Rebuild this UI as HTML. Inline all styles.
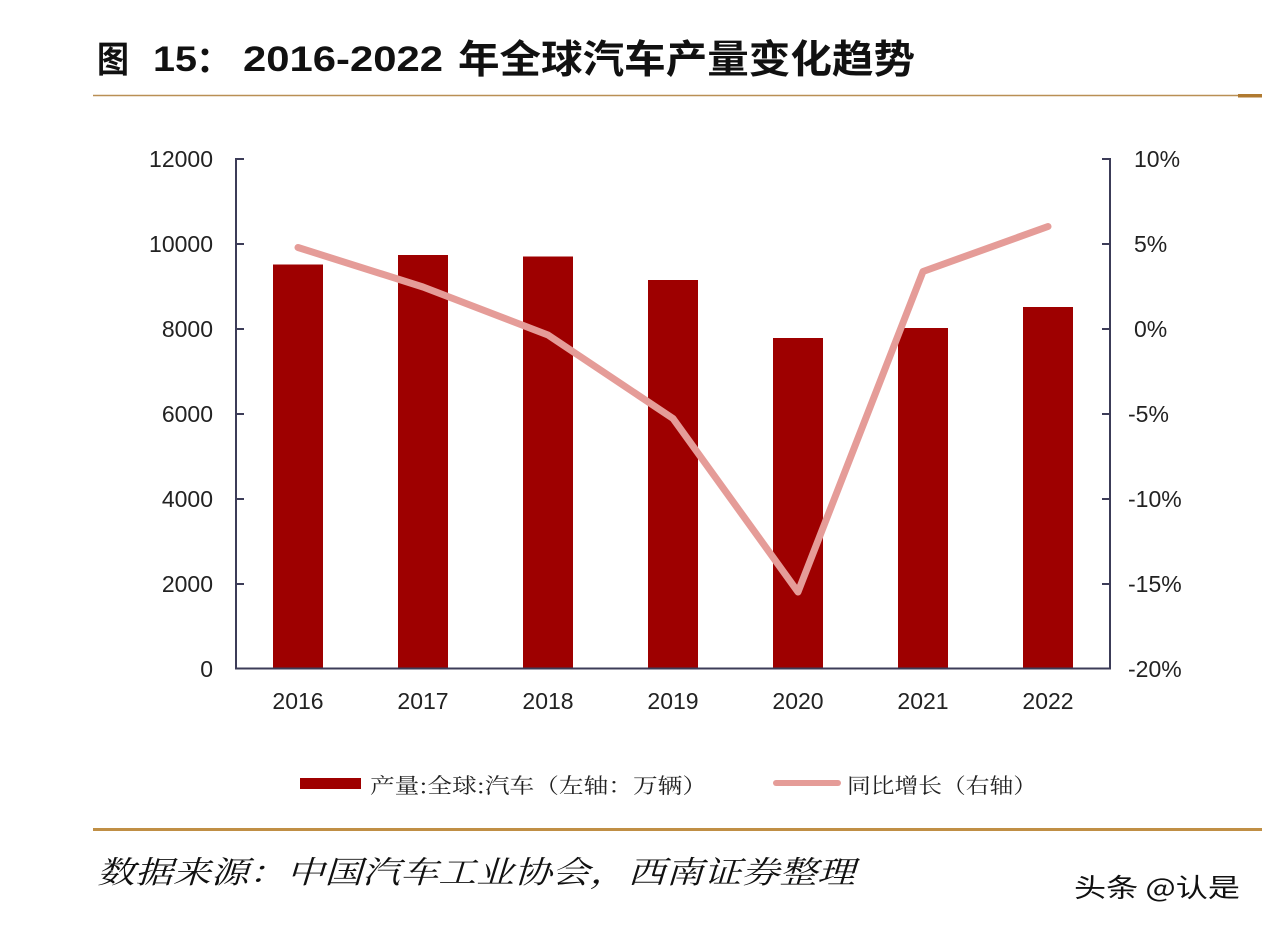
<!DOCTYPE html>
<html><head><meta charset="utf-8">
<style>
html,body{margin:0;padding:0;background:#fff;}
svg{display:block;}
</style></head>
<body>
<svg width="1268" height="930" viewBox="0 0 1268 930" xmlns="http://www.w3.org/2000/svg">
<rect width="1268" height="930" fill="#fff"/>
<!-- Title -->
<g font-weight="bold" fill="#111">
<text x="97" y="72" font-family="'Noto Sans CJK SC', sans-serif" font-size="36" textLength="32" lengthAdjust="spacingAndGlyphs">图</text>
<text x="153" y="71" font-family="'Liberation Sans', sans-serif" font-size="35" textLength="44" lengthAdjust="spacingAndGlyphs">15</text>
<text x="196" y="72" font-family="'Noto Sans CJK SC', sans-serif" font-size="36">：</text>
<text x="243" y="71" font-family="'Liberation Sans', sans-serif" font-size="35" textLength="200" lengthAdjust="spacingAndGlyphs">2016-2022</text>
<text x="458" y="73" font-family="'Noto Sans CJK SC', sans-serif" font-size="39" textLength="457" lengthAdjust="spacingAndGlyphs">年全球汽车产量变化趋势</text>
</g>
<!-- top rule -->
<line x1="93" y1="95.5" x2="1261" y2="95.5" stroke="#b98f55" stroke-width="1.6"/>
<rect x="1238" y="94" width="24" height="3.5" fill="#b07a30"/>

<!-- Bars -->
<g fill="#9e0000">
<rect x="273" y="264.5" width="50" height="204" transform="translate(0,0)"/>
</g>
<g fill="#9e0000">
<rect x="273" y="264.5" width="50" height="404"/>
<rect x="398" y="255" width="50" height="413.5"/>
<rect x="523" y="256.5" width="50" height="412"/>
<rect x="648" y="280" width="50" height="388.5"/>
<rect x="773" y="338" width="50" height="330.5"/>
<rect x="898" y="328" width="50" height="340.5"/>
<rect x="1023" y="307" width="50" height="361.5"/>
</g>

<!-- Axes -->
<g stroke="#3c3c58" stroke-width="2" fill="none">
<line x1="236" y1="158" x2="236" y2="669.5"/>
<line x1="1110" y1="158" x2="1110" y2="669.5"/>
<line x1="235" y1="668.5" x2="1111" y2="668.5"/>
<!-- left ticks -->
<line x1="236" y1="159" x2="244" y2="159"/>
<line x1="236" y1="244" x2="244" y2="244"/>
<line x1="236" y1="329" x2="244" y2="329"/>
<line x1="236" y1="414" x2="244" y2="414"/>
<line x1="236" y1="499" x2="244" y2="499"/>
<line x1="236" y1="584" x2="244" y2="584"/>
<!-- right ticks -->
<line x1="1102" y1="159" x2="1110" y2="159"/>
<line x1="1102" y1="244" x2="1110" y2="244"/>
<line x1="1102" y1="329" x2="1110" y2="329"/>
<line x1="1102" y1="414" x2="1110" y2="414"/>
<line x1="1102" y1="499" x2="1110" y2="499"/>
<line x1="1102" y1="584" x2="1110" y2="584"/>
</g>

<!-- Line series -->
<polyline points="298,247.5 423,287 548,335 673,418.5 798,592 923,271.5 1048,226.5" fill="none" stroke="#e59c98" stroke-width="7" stroke-linejoin="round" stroke-linecap="round"/>

<!-- left labels -->
<g font-family="'Liberation Sans', sans-serif" font-size="23" fill="#222" text-anchor="end">
<text x="213" y="167">12000</text>
<text x="213" y="252">10000</text>
<text x="213" y="337">8000</text>
<text x="213" y="422">6000</text>
<text x="213" y="507">4000</text>
<text x="213" y="592">2000</text>
<text x="213" y="677">0</text>
</g>
<!-- right labels -->
<g font-family="'Liberation Sans', sans-serif" font-size="23" fill="#222">
<text x="1134" y="167">10%</text>
<text x="1134" y="252">5%</text>
<text x="1134" y="337">0%</text>
<text x="1128" y="422">-5%</text>
<text x="1128" y="507">-10%</text>
<text x="1128" y="592">-15%</text>
<text x="1128" y="677">-20%</text>
</g>
<!-- x labels -->
<g font-family="'Liberation Sans', sans-serif" font-size="23" fill="#222" text-anchor="middle">
<text x="298" y="709">2016</text>
<text x="423" y="709">2017</text>
<text x="548" y="709">2018</text>
<text x="673" y="709">2019</text>
<text x="798" y="709">2020</text>
<text x="923" y="709">2021</text>
<text x="1048" y="709">2022</text>
</g>

<!-- Legend -->
<rect x="300" y="778" width="61" height="11" fill="#9e0000"/>
<text x="370" y="793" font-family="'Noto Serif CJK SC', 'Noto Sans CJK SC', serif" font-size="21" fill="#222" textLength="337" lengthAdjust="spacingAndGlyphs">产量:全球:汽车（左轴：万辆）</text>
<line x1="776" y1="783" x2="838" y2="783" stroke="#e59c98" stroke-width="6" stroke-linecap="round"/>
<text x="847" y="793" font-family="'Noto Serif CJK SC', 'Noto Sans CJK SC', serif" font-size="21" fill="#222" textLength="190" lengthAdjust="spacingAndGlyphs">同比增长（右轴）</text>

<!-- bottom rule -->
<line x1="93" y1="829.5" x2="1262" y2="829.5" stroke="#c08f45" stroke-width="3"/>

<!-- source -->
<text x="97" y="883" font-family="'Noto Serif CJK SC', 'Noto Sans CJK SC', serif" font-size="31" font-style="italic" fill="#111" textLength="758" lengthAdjust="spacingAndGlyphs">数据来源：中国汽车工业协会，西南证券整理</text>

<!-- watermark -->
<text x="1074" y="897" font-family="'Noto Sans CJK SC', sans-serif" font-size="26" fill="#111" textLength="166" lengthAdjust="spacingAndGlyphs">头条 @认是</text>
</svg>
</body></html>
